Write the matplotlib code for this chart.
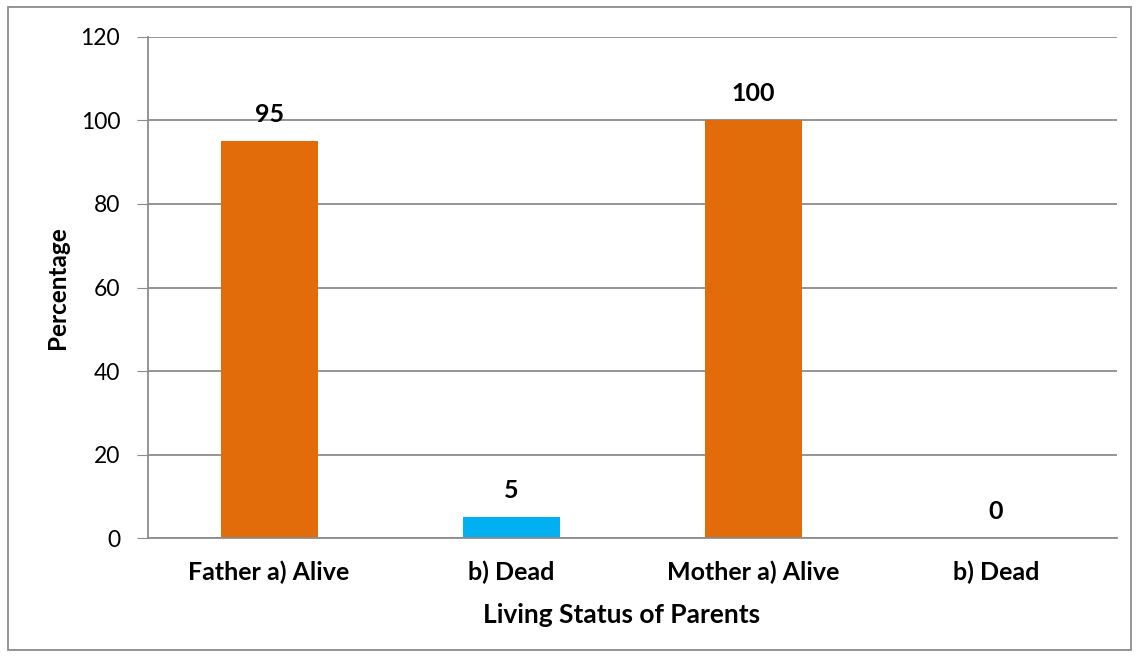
import matplotlib
matplotlib.use('Agg')
import matplotlib.pyplot as plt
from matplotlib.patches import Rectangle

categories = ['Father a) Alive', 'b) Dead', 'Mother a) Alive', 'b) Dead']
percentages = [95, 5, 100, 0]
bar_colors = ['#E36C0A', '#00B0F0', '#E36C0A', '#E36C0A']
yticks = [0, 20, 40, 60, 80, 100, 120]

plt.rcParams['font.family'] = ['Lato', 'DejaVu Sans']

fig = plt.figure(figsize=(11.4, 6.57), dpi=100)
ax = fig.add_axes([0.1298, 0.1811, 0.85, 0.7626])

x = range(len(categories))
bars = ax.bar(x, percentages, width=0.4, color=bar_colors)
for b, v in zip(bars, percentages):
    ax.text(b.get_x() + b.get_width() / 2, v + 6.4, str(v), ha='center', va='center',
            fontsize=18, fontweight='bold')

ax.set_xlim(-0.5, len(categories) - 0.5)
ax.set_ylim(0, 120)
ax.set_yticks(yticks)
ax.set_xticks(list(x))
ax.set_xticklabels(categories, fontsize=18, fontweight='bold')
ax.tick_params(axis='y', labelsize=16.5, length=8, color='#8c8c8c', pad=12)
ax.tick_params(axis='x', length=0, pad=16)
ax.yaxis.grid(True, color='#8c8c8c', linewidth=1.3)
ax.set_axisbelow(True)
for side in ['top', 'right']:
    ax.spines[side].set_visible(False)
for side in ['left', 'bottom']:
    ax.spines[side].set_color('#8c8c8c')
    ax.spines[side].set_linewidth(1.3)

ax.set_xlabel('Living Status of Parents', fontsize=19, fontweight='bold')
ax.xaxis.set_label_coords(0.489, -0.13)
ax.set_ylabel('Percentage', fontsize=17.5, fontweight='bold', labelpad=8)

# outer frame around the chart
fig.patches.append(Rectangle((8 / 1140, 7 / 657), 1 - 17 / 1140, 1 - 14 / 657,
                             transform=fig.transFigure, fill=False,
                             edgecolor='#8c8c8c', linewidth=1.3))

fig.savefig('out.png', dpi=100)
